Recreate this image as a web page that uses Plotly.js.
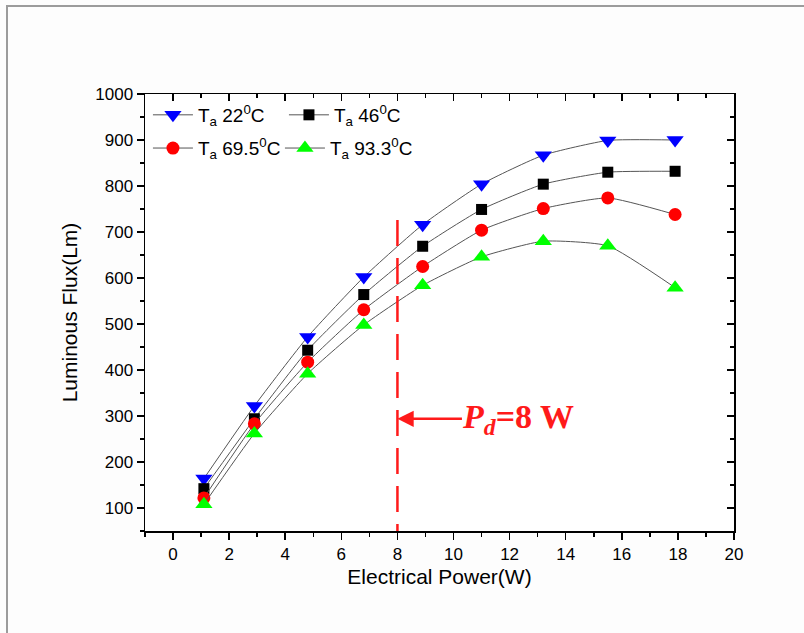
<!DOCTYPE html>
<html>
<head>
<meta charset="utf-8">
<script src="https://cdn.plot.ly/plotly-3.0.1.min.js"></script>
<style>
  html, body { margin: 0; padding: 0; background: #fdfdfd; }
  #frame { position: absolute; left: 6px; top: 5px; width: 798px; height: 628px;
           border-left: 2px solid #9c9c9c; border-top: 2px solid #9c9c9c; }
  #chart { position: absolute; left: 0; top: 0; width: 804px; height: 633px; }
</style>
</head>
<body>
<div id="frame"></div>
<div id="chart"></div>
<script>
// Data
const power = [1.1, 2.9, 4.8, 6.8, 8.9, 11.0, 13.2, 15.5, 17.9];
const flux22 = [164, 322, 472, 602, 716, 804, 867, 899, 900];
const flux46 = [142, 294, 443, 564, 669, 749, 804, 830, 832];
const flux695 = [122, 283, 417, 531, 625, 704, 751, 774, 738];
const flux933 = [108, 262, 392, 498, 584, 646, 680, 670, 579];
const seriesNames = ['T<sub>a</sub> 22<sup>0</sup>C', 'T<sub>a</sub> 46<sup>0</sup>C',
                     'T<sub>a</sub> 69.5<sup>0</sup>C', 'T<sub>a</sub> 93.3<sup>0</sup>C'];
const designPower = 8;
const designLineTop = 726;
const arrowY = 294;
const xRange = [-1, 20];
const yRange = [50, 1000];

const lineStyle = {color: '#555555', width: 1, shape: 'spline', smoothing: 0.5};
function mk(y, name, symbol, color, size, legend) {
  return {x: power, y: y, name: name, type: 'scatter', mode: 'lines+markers',
          line: lineStyle, legend: legend,
          marker: {symbol: symbol, color: color, size: size, line: {width: 0}}};
}
const traces = [
  mk(flux22, seriesNames[0], 'triangle-down', '#0000ff', 15, 'legend'),
  mk(flux46, seriesNames[1], 'square', '#000000', 11, 'legend'),
  mk(flux695, seriesNames[2], 'circle', '#ff0000', 13, 'legend2'),
  mk(flux933, seriesNames[3], 'triangle-up', '#00ff00', 15, 'legend2'),
  {x: [], y: [], xaxis: 'x2', yaxis: 'y2', showlegend: false, hoverinfo: 'skip', type: 'scatter'}
];

const baseFont = {family: 'Arial, Liberation Sans, sans-serif', color: '#000'};
const axisCommon = {
  showgrid: false, zeroline: false, showline: true, linecolor: '#000', linewidth: 1.5,
  ticks: 'outside', tickcolor: '#000', tickwidth: 1.5, ticklen: 7,
  tickfont: Object.assign({size: 17}, baseFont)
};

const layout = {
  width: 804, height: 633,
  margin: {l: 145, r: 70, t: 94, b: 102},
  paper_bgcolor: 'rgba(0,0,0,0)', plot_bgcolor: '#ffffff',
  font: baseFont,
  xaxis: Object.assign({}, axisCommon, {
    range: xRange, tick0: 0, dtick: 2,
    minor: {dtick: 1, ticks: 'outside', ticklen: 4, tickwidth: 1.5, tickcolor: '#000'},
    title: {text: 'Electrical Power(W)', font: Object.assign({size: 21}, baseFont), standoff: 6}
  }),
  yaxis: Object.assign({}, axisCommon, {
    range: yRange, tick0: 0, dtick: 100,
    minor: {dtick: 50, ticks: 'outside', ticklen: 4, tickwidth: 1.5, tickcolor: '#000'},
    title: {text: 'Luminous Flux(Lm)', font: Object.assign({size: 21}, baseFont), standoff: 12}
  }),
  xaxis2: {overlaying: 'x', side: 'top', anchor: 'y2', range: xRange, tick0: 0, dtick: 2,
    showgrid: false, zeroline: false, showline: true, linecolor: '#000', linewidth: 1.5,
    ticks: 'inside', ticklen: 7, tickwidth: 1.5, tickcolor: '#000', showticklabels: false,
    minor: {dtick: 1, ticks: 'inside', ticklen: 4, tickwidth: 1.5, tickcolor: '#000'}},
  yaxis2: {overlaying: 'y', side: 'right', anchor: 'x2', range: yRange, tick0: 0, dtick: 100,
    showgrid: false, zeroline: false, showline: true, linecolor: '#000', linewidth: 1.5,
    ticks: 'inside', ticklen: 7, tickwidth: 1.5, tickcolor: '#000', showticklabels: false,
    minor: {dtick: 50, ticks: 'inside', ticklen: 4, tickwidth: 1.5, tickcolor: '#000'}},
  showlegend: true,
  legend: {orientation: 'h', x: 0.005, xanchor: 'left', y: 0.952, yanchor: 'middle',
    bgcolor: 'rgba(0,0,0,0)', entrywidth: 81, entrywidthmode: 'pixels',
    font: Object.assign({size: 19}, baseFont), itemwidth: 40},
  legend2: {orientation: 'h', x: 0.005, xanchor: 'left', y: 0.876, yanchor: 'middle',
    bgcolor: 'rgba(0,0,0,0)', entrywidth: 77, entrywidthmode: 'pixels',
    font: Object.assign({size: 19}, baseFont), itemwidth: 40},
  shapes: [{type: 'line', xref: 'x', yref: 'y', x0: designPower, x1: designPower,
    y0: designLineTop, y1: yRange[0],
    line: {color: '#ff1a1a', width: 2.5, dash: '26px,12px'}}],
  annotations: [{xref: 'x', yref: 'y', x: designPower, y: arrowY,
    text: '<b><i>P</i><sub><i>d</i></sub>=8 W</b>',
    font: {family: 'Liberation Serif, Times New Roman, serif', size: 34, color: '#ff1a1a'},
    showarrow: true, ax: 121, ay: 0, arrowhead: 2, arrowsize: 1.3, arrowwidth: 2.5,
    arrowcolor: '#ff1a1a', standoff: 0, borderpad: 0}]
};

Plotly.newPlot('chart', traces, layout, {displayModeBar: false, staticPlot: true});
</script>
</body>
</html>
